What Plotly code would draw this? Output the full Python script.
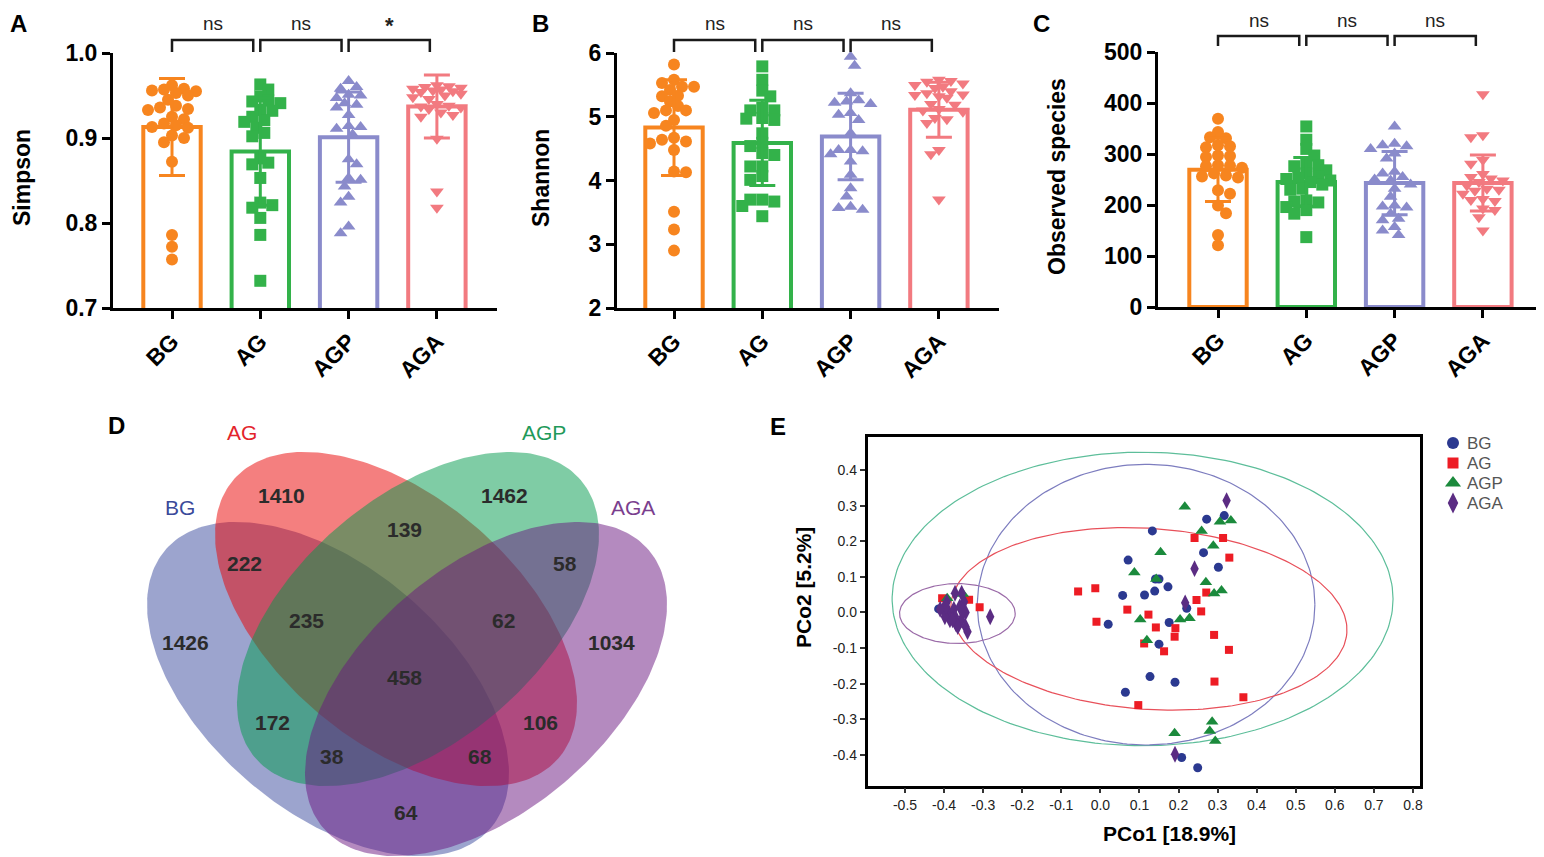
import numpy as np
import plotly.graph_objects as go

W, H = 1544, 857
OFF = 8  # the page draws the figure 8 px in from the top-left corner
FONT = "Arial, Liberation Sans, sans-serif"

groups = ["BG", "AG", "AGP", "AGA"]
bar_colors = ["#F7851F", "#33B24A", "#8A8BCB", "#F27A80"]
bar_symbols = ["circle", "square", "triangle-up", "triangle-down"]

# --- A: Simpson
simpson_bg = [0.962, 0.958, 0.957, 0.956, 0.955, 0.953, 0.950, 0.945, 0.938, 0.936, 0.934, 0.933, 0.925,
              0.922, 0.917, 0.915, 0.913, 0.912, 0.903, 0.900, 0.895, 0.872, 0.786, 0.772, 0.757]
simpson_ag = [0.963, 0.957, 0.949, 0.944, 0.943, 0.941, 0.933, 0.932, 0.925, 0.921, 0.919, 0.912, 0.906,
              0.902, 0.876, 0.871, 0.869, 0.853, 0.824, 0.821, 0.818, 0.806, 0.786, 0.732]
simpson_agp = [0.967, 0.960, 0.958, 0.951, 0.950, 0.947, 0.941, 0.939, 0.936, 0.927, 0.914, 0.913, 0.911,
               0.904, 0.875, 0.869, 0.853, 0.851, 0.843, 0.831, 0.824, 0.796, 0.788]
simpson_aga = [0.962, 0.961, 0.960, 0.959, 0.958, 0.957, 0.956, 0.955, 0.954, 0.952, 0.950, 0.948, 0.946,
               0.940, 0.938, 0.937, 0.936, 0.934, 0.930, 0.927, 0.925, 0.899, 0.837, 0.818]
simpson_mean = [0.913, 0.884, 0.901, 0.937]
simpson_sd = [0.057, 0.063, 0.053, 0.037]

# --- B: Shannon
shannon_bg = [5.82, 5.58, 5.53, 5.47, 5.47, 5.42, 5.33, 5.32, 5.24, 5.17, 5.10, 5.10, 5.06, 4.95, 4.86,
              4.67, 4.64, 4.61, 4.58, 4.48, 4.14, 4.13, 3.51, 3.23, 2.90]
shannon_ag = [5.79, 5.58, 5.41, 5.32, 5.14, 5.10, 5.10, 4.98, 4.97, 4.95, 4.74, 4.59, 4.54, 4.43, 4.40,
              4.22, 4.22, 4.07, 4.01, 3.70, 3.70, 3.67, 3.60, 3.44]
shannon_agp = [5.94, 5.80, 5.37, 5.26, 5.24, 5.22, 5.20, 5.06, 5.03, 4.95, 4.74, 4.48, 4.48, 4.46, 4.41,
               4.30, 4.09, 3.88, 3.75, 3.59, 3.57, 3.54]
shannon_aga = [5.58, 5.56, 5.55, 5.52, 5.50, 5.47, 5.45, 5.40, 5.37, 5.35, 5.34, 5.32, 5.30, 5.20, 5.19,
               5.12, 5.10, 5.08, 4.98, 4.96, 4.90, 4.48, 4.41, 3.70]
shannon_mean = [4.83, 4.59, 4.69, 5.11]
shannon_sd = [0.75, 0.67, 0.68, 0.43]

# --- C: Observed species
observed_bg = [369, 343, 333, 331, 317, 315, 313, 297, 296, 294, 278, 277, 276, 273, 262, 258, 256, 254,
               229, 222, 199, 184, 141, 121]
observed_ag = [354, 328, 310, 297, 281, 278, 276, 268, 262, 255, 253, 251, 248, 245, 240, 232, 230, 209,
               207, 205, 196, 190, 183, 137]
observed_agp = [354, 320, 317, 315, 310, 301, 291, 265, 262, 255, 250, 248, 240, 232, 216, 199, 197, 195,
                183, 173, 170, 157, 150, 141]
observed_aga = [417, 337, 333, 288, 281, 261, 255, 252, 248, 245, 238, 232, 230, 228, 222, 212, 210, 208,
                193, 190, 176, 150]
observed_mean = [269, 245, 243, 243]
observed_sd = [62, 48, 62, 55]

comparisons = [["ns", "ns", "*"], ["ns", "ns", "ns"], ["ns", "ns", "ns"]]

# --- D: Venn counts
venn_sets = ["BG", "AG", "AGP", "AGA"]
venn_counts = [1426, 1410, 1462, 1034, 222, 139, 58, 235, 62, 458, 172, 106, 38, 68, 64]

# --- E: PCoA
pcoa_bg_x = [0.133, 0.272, 0.317, 0.071, 0.264, 0.302, 0.141, 0.150, 0.173, 0.139, 0.113, 0.057, 0.221,
             0.020, 0.176, 0.150, 0.127, 0.191, 0.064, 0.208, 0.249, -0.414]
pcoa_bg_y = [0.229, 0.262, 0.272, 0.147, 0.168, 0.127, 0.094, 0.094, 0.072, 0.060, 0.049, 0.048, 0.012,
             -0.033, -0.028, -0.089, -0.180, -0.196, -0.224, -0.407, -0.436, 0.010]
pcoa_ag_x = [-0.057, -0.013, -0.010, 0.069, 0.123, 0.142, 0.192, 0.190, 0.112, 0.163, 0.241, 0.314, 0.330,
             0.271, 0.246, 0.258, 0.291, 0.329, 0.292, 0.366, 0.097, -0.405, -0.336, -0.309]
pcoa_ag_y = [0.059, 0.068, -0.026, 0.008, -0.006, -0.042, -0.044, -0.068, -0.087, -0.109, 0.209, 0.209,
             0.154, 0.056, 0.035, 0.003, -0.063, -0.105, -0.194, -0.238, -0.260, 0.040, 0.036, 0.015]
pcoa_agp_x = [0.216, 0.306, 0.334, 0.259, 0.289, 0.154, 0.087, 0.143, 0.270, 0.310, 0.291, 0.102, 0.204,
              0.228, 0.119, 0.286, 0.190, 0.280, 0.294, -0.392, -0.352]
pcoa_agp_y = [0.297, 0.255, 0.258, 0.229, 0.187, 0.169, 0.112, 0.094, 0.085, 0.062, 0.053, -0.020, -0.020,
              -0.016, -0.078, -0.307, -0.339, -0.333, -0.361, 0.040, 0.052]
pcoa_aga_x = [0.323, 0.241, 0.217, 0.191, -0.282, -0.372, -0.393, -0.402, -0.389, -0.375, -0.360, -0.349,
              -0.345, -0.356, -0.370, -0.385, -0.398, -0.372, -0.345, -0.340, -0.365, -0.378, -0.352,
              -0.395, -0.410, -0.355]
pcoa_aga_y = [0.314, 0.123, 0.027, -0.398, -0.012, 0.054, 0.030, 0.009, 0.000, 0.009, 0.016, 0.030, 0.000,
              -0.021, -0.031, -0.021, -0.012, -0.012, -0.040, -0.054, -0.040, -0.021, 0.005, 0.016, 0.009,
              0.054]
# group ellipses: centre x, centre y, radius x, radius y, tilt (deg)
ell_agp = [0.108, 0.038, 0.641, 0.412, 0]
ell_bg = [0.117, 0.022, 0.432, 0.394, 0]
ell_ag = [0.124, -0.018, 0.508, 0.254, -4]
ell_aga = [-0.366, -0.003, 0.148, 0.084, 0]
pc1_ticks = [-0.5, -0.4, -0.3, -0.2, -0.1, 0.0, 0.1, 0.2, 0.3, 0.4, 0.5, 0.6, 0.7, 0.8]
pc2_ticks = [-0.4, -0.3, -0.2, -0.1, 0.0, 0.1, 0.2, 0.3, 0.4]


def px(x):
    return (x - OFF) / W


def py(y):
    return 1 - (y - OFF) / H


def xdom(p0, p1):
    return [px(p0), px(p1)]


def ydom(top, bottom):
    return [py(bottom), py(top)]


def label(text, x, y, size, color="black", bold=False, angle=0, xref="paper", yref="paper",
          xanchor="center", yanchor="middle"):
    if xref == "paper":
        x = px(x)
    if yref == "paper":
        y = py(y)
    return dict(text=text, x=x, y=y, xref=xref, yref=yref, xanchor=xanchor, yanchor=yanchor,
                textangle=angle, showarrow=False,
                font=dict(family=FONT, size=size, color=color, weight="bold" if bold else "normal"))


def swarm(vals, ppx, ppy, diam=9.0, step=4.0, maxoff=27.0):
    # simple beeswarm: spread points sideways, capped so they stay inside the bar
    vals = np.asarray(vals, dtype=float)
    placed = []
    offs = np.zeros(len(vals))
    cands = [0.0]
    k = 1
    while k * step <= maxoff:
        cands += [k * step, -k * step]
        k += 1
    for n, i in enumerate(np.argsort(vals)[::-1]):
        yp = vals[i] * ppy
        order = cands if n % 2 else [-c for c in cands]
        best, best_d = 0.0, -1.0
        for c in order:
            d = min([np.hypot(c - xq, yp - yq) for xq, yq in placed] or [1e9])
            if d >= diam:
                best = c
                break
            if d > best_d:
                best, best_d = c, d
        placed.append((best, yp))
        offs[i] = best / ppx
    return offs


fig = go.Figure()
annots = []
shapes = []

panels = [
    dict(ax="", letter="A", left=113, right=497, top=53, bottom=308, bg=172, ymin=0.7, ymax=1.0, dtick=0.1,
         fmt=".1f", title="Simpson", tx=22, ty=178, data=[simpson_bg, simpson_ag, simpson_agp, simpson_aga],
         mean=simpson_mean, sd=simpson_sd, br=(40, 52, 24), lx=18),
    dict(ax="2", letter="B", left=617, right=999, top=53, bottom=308, bg=674, ymin=2, ymax=6, dtick=1,
         fmt="d", title="Shannon", tx=541, ty=178, data=[shannon_bg, shannon_ag, shannon_agp, shannon_aga],
         mean=shannon_mean, sd=shannon_sd, br=(40, 52, 24), lx=540),
    dict(ax="3", letter="C", left=1158, right=1540, top=52, bottom=307, bg=1218, ymin=0, ymax=500, dtick=100,
         fmt="d", title="Observed species", tx=1057, ty=177,
         data=[observed_bg, observed_ag, observed_agp, observed_aga],
         mean=observed_mean, sd=observed_sd, br=(36, 46, 20), lx=1041),
]
step_px = 88.3

for pi, p in enumerate(panels):
    xa, ya = "x" + p["ax"], "y" + p["ax"]
    ppy = (p["bottom"] - p["top"]) / (p["ymax"] - p["ymin"])
    for i, g in enumerate(groups):
        c = bar_colors[i]
        fig.add_trace(go.Bar(x=[i], y=[p["mean"][i]], width=0.65, xaxis=xa, yaxis=ya, showlegend=False,
                             marker=dict(color="white", line=dict(color=c, width=4))))
        offs = swarm(p["data"][i], step_px, ppy)
        fig.add_trace(go.Scatter(x=i + offs, y=p["data"][i], mode="markers", xaxis=xa, yaxis=ya,
                                 showlegend=False, cliponaxis=False,
                                 marker=dict(symbol=bar_symbols[i], size=12, color=c, line=dict(width=0))))
        fig.add_trace(go.Scatter(x=[i], y=[p["mean"][i]], mode="markers", xaxis=xa, yaxis=ya,
                                 showlegend=False, marker=dict(size=1, color=c),
                                 error_y=dict(type="data", array=[p["sd"][i]], color=c, thickness=3, width=13)))
    xr0 = -(p["bg"] - p["left"]) / step_px
    xr1 = (p["right"] - p["bg"]) / step_px
    axis_style = dict(showline=True, linewidth=3, linecolor="black", ticks="outside", ticklen=8,
                      tickwidth=3, tickcolor="black", showgrid=False, zeroline=False, automargin=False)
    fig.update_layout(**{
        "xaxis" + p["ax"]: dict(domain=xdom(p["left"], p["right"]), range=[xr0, xr1], anchor=ya,
                                tickvals=[0, 1, 2, 3], ticktext=groups, tickangle=-45,
                                tickfont=dict(family=FONT, size=23, color="black", weight="bold"),
                                **axis_style),
        "yaxis" + p["ax"]: dict(domain=ydom(p["top"], p["bottom"]), range=[p["ymin"], p["ymax"]], anchor=xa,
                                dtick=p["dtick"], tickformat=p["fmt"],
                                tickfont=dict(family=FONT, size=23, color="black", weight="bold"),
                                **axis_style),
    })
    annots.append(label(p["title"], p["tx"], p["ty"], 23, bold=True, angle=-90))
    annots.append(label(p["letter"], p["lx"], OFF, 24, bold=True, yanchor="top"))
    btop, bfoot, btxt = p["br"]
    for k, lab in enumerate(comparisons[pi]):
        x0, x1 = k, k + 0.92
        yt, yf = py(btop), py(bfoot)
        shapes.append(dict(type="path", xref=xa, yref="paper",
                           path=f"M {x0},{yf} L {x0},{yt} L {x1},{yt} L {x1},{yf}",
                           line=dict(color="#1a1a1a", width=2.5)))
        star = lab == "*"
        annots.append(label(lab, (x0 + x1) / 2, btxt + (1 if star else 0), 22 if star else 19, "#222",
                            bold=star, xref=xa))

# --- D: Venn (axes in pixel units of the reference)
venn_fill = ["rgba(57,73,157,0.5)", "rgba(233,0,0,0.5)", "rgba(0,153,75,0.5)", "rgba(105,21,127,0.5)"]
venn_text = ["#3B4A9A", "#E3242B", "#1F9A5A", "#7A3E8E"]
venn_centres = [(328, 689), (396, 619), (418, 619), (486, 689)]
venn_tilt = [40.5, 40.5, -40.5, -40.5]
venn_ab = (214, 122)
venn_label_pos = [(180, 507), (242, 432), (544, 432), (633, 507)]
venn_count_pos = [(185, 642), (281, 495), (504, 495), (611, 642), (244, 563), (404, 529), (565, 563),
                  (306, 620), (503, 620), (404, 677), (272, 722), (540, 722), (332, 756), (480, 756),
                  (406, 812)]
t = np.linspace(0, 2 * np.pi, 240)
for k in range(4):
    cx, cy = venn_centres[k]
    th = np.radians(venn_tilt[k])
    a, b = venn_ab
    ex = cx + a * np.cos(t) * np.cos(th) - b * np.sin(t) * np.sin(th)
    ey = cy + a * np.cos(t) * np.sin(th) + b * np.sin(t) * np.cos(th)
    fig.add_trace(go.Scatter(x=ex, y=ey, mode="lines", fill="toself", fillcolor=venn_fill[k],
                             line=dict(width=0), xaxis="x4", yaxis="y4", showlegend=False, hoverinfo="skip"))
    annots.append(label(venn_sets[k], venn_label_pos[k][0], venn_label_pos[k][1], 21, venn_text[k],
                        xref="x4", yref="y4"))
for k, n in enumerate(venn_counts):
    annots.append(label(str(n), venn_count_pos[k][0], venn_count_pos[k][1], 21, "#2b2b2b", bold=True,
                        xref="x4", yref="y4"))
fig.update_layout(
    xaxis4=dict(domain=xdom(100, 700), range=[100, 700], visible=False, anchor="y4"),
    yaxis4=dict(domain=ydom(410, 857), range=[857, 410], visible=False, anchor="x4"),
)
annots.append(label("D", 116, 425, 24, bold=True))

# --- E: PCoA
e_left, e_right, e_top, e_bottom = 867.5, 1420.4, 436.5, 785.6
ppx_e, ppy_e = 390.8, 356.0
ell_specs = [(ell_agp, "#5DBE9A"), (ell_bg, "#7D7DBF"), (ell_ag, "#E8505A"), (ell_aga, "#9B6BA8")]
for spec, col in ell_specs:
    cx, cy, rx, ry, tilt = spec
    ph = np.radians(tilt)
    ax_, ay_ = rx * ppx_e, ry * ppy_e
    ex = cx + (ax_ * np.cos(t) * np.cos(ph) - ay_ * np.sin(t) * np.sin(ph)) / ppx_e
    ey = cy + (ax_ * np.cos(t) * np.sin(ph) + ay_ * np.sin(t) * np.cos(ph)) / ppy_e
    fig.add_trace(go.Scatter(x=ex, y=ey, mode="lines", line=dict(color=col, width=1.2),
                             xaxis="x5", yaxis="y5", showlegend=False, hoverinfo="skip"))

pcoa_sets = [
    ("BG", pcoa_bg_x, pcoa_bg_y, "#2B3990", "circle", 9),
    ("AG", pcoa_ag_x, pcoa_ag_y, "#ED1C24", "square", 8),
    ("AGP", pcoa_agp_x, pcoa_agp_y, "#1B8A3C", "triangle-up", 11),
    ("AGA", pcoa_aga_x, pcoa_aga_y, "#5B2C83", "diamond-tall", 12),
]
for name, xs, ys, col, sym, sz in pcoa_sets:
    fig.add_trace(go.Scatter(x=xs, y=ys, mode="markers", name=name, xaxis="x5", yaxis="y5", showlegend=False,
                             marker=dict(symbol=sym, size=sz, color=col, line=dict(width=0))))

# legend for E, laid out on its own hidden pixel axis so the rows sit 20 px apart
leg_x, leg_y0, leg_dy = 1453, 443, 20
for k, (name, xs, ys, col, sym, sz) in enumerate(pcoa_sets):
    fig.add_trace(go.Scatter(x=[leg_x], y=[leg_y0 + k * leg_dy], mode="markers", xaxis="x6", yaxis="y6",
                             showlegend=False, hoverinfo="skip",
                             marker=dict(symbol=sym, size=sz + 3, color=col, line=dict(width=0))))
    annots.append(label(name, leg_x + 12, leg_y0 + k * leg_dy, 17, "#555", xref="x6", yref="y6",
                        xanchor="left"))
fig.update_layout(
    xaxis6=dict(domain=xdom(1430, 1540), range=[1430, 1540], visible=False, anchor="y6"),
    yaxis6=dict(domain=ydom(430, 520), range=[520, 430], visible=False, anchor="x6"),
)

e_axis = dict(showline=True, linewidth=2.5, linecolor="black", mirror=True, ticks="outside", ticklen=5,
              tickwidth=1.5, tickcolor="#333", showgrid=False, zeroline=False, automargin=False,
              tickfont=dict(family=FONT, size=14, color="#222"))
fig.update_layout(
    xaxis5=dict(domain=xdom(e_left, e_right), range=[-0.596, 0.819], anchor="y5",
                tickvals=pc1_ticks, ticktext=[f"{v:.1f}" for v in pc1_ticks], **e_axis),
    yaxis5=dict(domain=ydom(e_top, e_bottom), range=[-0.486, 0.494], anchor="x5",
                tickvals=pc2_ticks, ticktext=[f"{v:.1f}" for v in pc2_ticks], **e_axis),
)
annots.append(label("PCo1 [18.9%]", 1169, 833, 21, bold=True))
annots.append(label("PCo2 [5.2%]", 803, 588, 21, bold=True, angle=-90))
annots.append(label("E", 778, 427, 24, bold=True))

fig.update_layout(
    width=W, height=H, margin=dict(l=0, r=0, t=0, b=0, autoexpand=False),
    paper_bgcolor="white", plot_bgcolor="rgba(0,0,0,0)",
    barmode="overlay", annotations=annots, shapes=shapes, showlegend=False,
)
fig.write_html("out.html")
